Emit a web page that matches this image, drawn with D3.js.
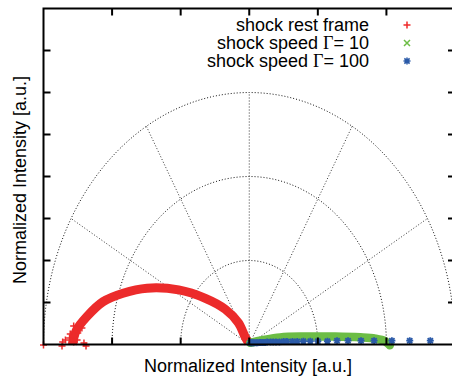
<!DOCTYPE html>
<html>
<head>
<meta charset="utf-8">
<script src="https://cdn.jsdelivr.net/npm/d3@7"></script>
<style>
  body { margin: 0; background: #fff; }
  text { font-family: "Liberation Sans", Arial, sans-serif; }
</style>
</head>
<body>
<svg id="chart" width="452" height="379"></svg>
<script>
// shock rest frame (dense band), axis units
const restX = [-2.58, -2.52, -2.37, -2.13, -1.84, -1.49, -1.03, -0.64, -0.35, -0.16, -0.06, -0.01];
const restY = [0.0, 0.17, 0.33, 0.51, 0.61, 0.67, 0.65, 0.55, 0.42, 0.26, 0.09, 0.02];
// scattered points at the foot of the rest-frame band
const restNoiseX = [-3.0, -2.73, -2.72, -2.68, -2.62, -2.61, -2.56, -2.56, -2.51, -2.50, -2.44, -2.41, -2.38];
const restNoiseY = [-0.006, -0.018, 0.03, 0.054, 0.077, 0.125, 0.03, 0.22, 0.054, 0.137, 0.196, 0.018, -0.018];

// shock speed Gamma = 10
const g10X = [0.015, 0.19, 0.45, 0.82, 1.25, 1.62, 1.84, 1.98, 2.05];
const g10Y = [0.02, 0.05, 0.085, 0.095, 0.095, 0.085, 0.07, 0.04, -0.01];

// shock speed Gamma = 100
const g100X = [0.015, 0.03, 0.04, 0.06, 0.07, 0.10, 0.12, 0.15, 0.17, 0.20, 0.23, 0.26, 0.31, 0.35,
  0.39, 0.44, 0.50, 0.55, 0.63, 0.70, 0.79, 0.89, 1.00, 1.14, 1.28, 1.44, 1.63, 1.82, 2.08, 2.34, 2.64];
const g100Y = [0.02, 0.02, 0.02, 0.02, 0.02, 0.02, 0.02, 0.025, 0.025, 0.025, 0.025, 0.03, 0.03, 0.03,
  0.03, 0.03, 0.035, 0.035, 0.035, 0.035, 0.04, 0.04, 0.04, 0.04, 0.045, 0.045, 0.045, 0.045, 0.045, 0.045, 0.045];

const legendNames = ["shock rest frame", "shock speed \u0393= 10", "shock speed \u0393= 100"];
const legendColors = ["#f02a2a", "#6cbd45", "#2b5aa8"];
const legendMarks = ["plus", "cross", "star"];

const gridRadii = [1, 2, 3];
const gridAngles = [30, 60, 90, 120, 150];
const xTicks = [-2, -1, 0, 1, 2];
const yTicks = [0.5, 1, 1.5, 2, 2.5, 3, 3.5];

const svg = d3.select("#chart");
const pLeft = 43.5, pRight = 455, pTop = 8.5, pBottom = 344.5;

const x = d3.scaleLinear().domain([-3, 3]).range([pLeft, pRight]);
const y = d3.scaleLinear().domain([0, 4]).range([pBottom, pTop]);

const markPath = {
  plus: "M-3.5,0H3.5M0,-3.5V3.5",
  cross: "M-3,-3L3,3M-3,3L3,-3",
  star: "M-3.5,0H3.5M0,-3.5V3.5M-2.6,-2.6L2.6,2.6M-2.6,2.6L2.6,-2.6"
};

svg.append("defs").append("clipPath")
  .attr("id", "plot-clip")
  .append("rect")
  .attr("x", pLeft).attr("y", pTop)
  .attr("width", pRight - pLeft).attr("height", pBottom - pTop);

// polar grid
const grid = svg.append("g").attr("clip-path", "url(#plot-clip)");
const arcPts = d3.range(0, 181, 2);
gridRadii.forEach(r => {
  grid.append("path")
    .datum(arcPts)
    .attr("fill", "none")
    .attr("stroke", "#111")
    .attr("stroke-width", 1)
    .attr("stroke-dasharray", "1,2")
    .attr("d", d3.line()
      .x(a => x(r * Math.cos(a * Math.PI / 180)))
      .y(a => y(r * Math.sin(a * Math.PI / 180))));
});
grid.selectAll(".spoke")
  .data(gridAngles)
  .enter()
  .append("line")
  .attr("class", "spoke")
  .attr("x1", x(0)).attr("y1", y(0))
  .attr("x2", a => x(3 * Math.cos(a * Math.PI / 180)))
  .attr("y2", a => y(3 * Math.sin(a * Math.PI / 180)))
  .attr("stroke", "#333")
  .attr("stroke-width", 1)
  .attr("stroke-dasharray", "1,2");

// rest frame band
const band = d3.line().x(d => x(d[0])).y(d => y(d[1])).curve(d3.curveCatmullRom);
svg.append("path")
  .datum(d3.zip(restX, restY))
  .attr("fill", "none")
  .attr("stroke", "#ec2b2b")
  .attr("stroke-width", 9)
  .attr("stroke-linecap", "butt")
  .attr("d", band);
svg.selectAll(".rest-noise")
  .data(d3.zip(restNoiseX, restNoiseY))
  .enter()
  .append("path")
  .attr("class", "rest-noise")
  .attr("transform", d => `translate(${x(d[0])},${y(d[1])})`)
  .attr("d", markPath.plus)
  .attr("stroke", "#ec2b2b")
  .attr("stroke-width", 1.5);

// Gamma = 10 band
svg.append("path")
  .datum(d3.zip(g10X, g10Y))
  .attr("fill", "none")
  .attr("stroke", "#6cbd45")
  .attr("stroke-width", 8.5)
  .attr("stroke-linecap", "round")
  .attr("d", band);

// Gamma = 100 points
svg.selectAll(".g100")
  .data(d3.zip(g100X, g100Y))
  .enter()
  .append("path")
  .attr("class", "g100")
  .attr("transform", d => `translate(${x(d[0])},${y(d[1])})`)
  .attr("d", markPath.star)
  .attr("stroke", "#2b5aa8")
  .attr("stroke-width", 1.8);

// border and ticks
svg.append("path")
  .attr("d", `M${pRight},${pTop}H${pLeft}V${pBottom}H${pRight}`)
  .attr("fill", "none")
  .attr("stroke", "#000")
  .attr("stroke-width", 2);
const ticks = svg.append("g").attr("stroke", "#000").attr("stroke-width", 2);
xTicks.forEach(t => {
  ticks.append("line").attr("x1", x(t)).attr("x2", x(t)).attr("y1", pBottom).attr("y2", pBottom - 7);
  ticks.append("line").attr("x1", x(t)).attr("x2", x(t)).attr("y1", pTop).attr("y2", pTop + 7);
});
yTicks.forEach(t => {
  ticks.append("line").attr("x1", pLeft).attr("x2", pLeft + 7).attr("y1", y(t)).attr("y2", y(t));
  ticks.append("line").attr("x1", pRight).attr("x2", pRight - 7).attr("y1", y(t)).attr("y2", y(t));
});

// axis labels
svg.append("text")
  .attr("x", 248).attr("y", 372)
  .attr("text-anchor", "middle")
  .attr("font-size", 18)
  .text("Normalized Intensity [a.u.]");
svg.append("text")
  .attr("transform", "translate(26,180) rotate(-90)")
  .attr("text-anchor", "middle")
  .attr("font-size", 18)
  .text("Normalized Intensity [a.u.]");

// legend (Gamma set in a serif face, as in the original)
const legend = svg.append("g");
legendNames.forEach((name, i) => {
  const ly = 25 + i * 18;
  const parts = name.split("\u0393");
  const t = legend.append("text")
    .attr("x", 369).attr("y", ly + 6)
    .attr("text-anchor", "end")
    .attr("font-size", 18);
  t.append("tspan").text(parts[0]);
  if (parts.length > 1) {
    t.append("tspan").attr("font-family", "Liberation Serif, serif").text("\u0393");
    t.append("tspan").text(parts[1]);
  }
  legend.append("path")
    .attr("transform", `translate(407,${ly})`)
    .attr("d", markPath[legendMarks[i]])
    .attr("stroke", legendColors[i])
    .attr("stroke-width", 1.5);
});
</script>
</body>
</html>
